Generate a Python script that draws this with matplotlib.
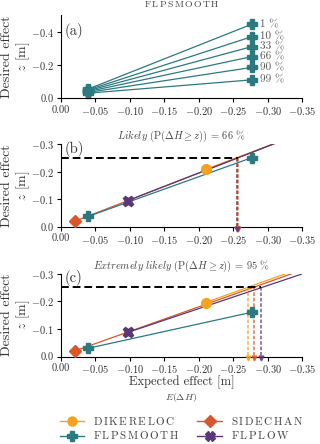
import matplotlib

matplotlib.use("Agg")
import matplotlib.pyplot as plt
from matplotlib.lines import Line2D

plt.rcParams["font.family"] = ["cmr10", "DejaVu Serif"]
plt.rcParams["mathtext.fontset"] = "cm"
plt.rcParams["axes.formatter.use_mathtext"] = True
plt.rcParams["axes.unicode_minus"] = True

C_DIKE = "#f6a11f"
C_SIDE = "#d9572c"
C_SMOOTH = "#2b7a80"
C_LOW = "#5a3878"

TARGET = -0.25

# panel (a): FLPSMOOTH quantile lines
a_labels = ["1 %", "10 %", "33 %", "66 %", "90 %", "99 %"]
a_x0 = [-0.04] * 6
a_z0 = [-0.055, -0.05, -0.045, -0.04, -0.035, -0.03]
a_x1 = [-0.277] * 6
a_z1 = [-0.445, -0.37, -0.31, -0.25, -0.185, -0.11]

# panel (b): likely (66 %)
b_measures = ["DIKERELOC", "SIDECHAN", "FLPLOW"]
b_pt_x = [-0.21, -0.02, -0.097]
b_pt_z = [-0.208, -0.02, -0.095]
b_end_x = [-0.31, -0.31, -0.31]
b_end_z = [-0.301, -0.301, -0.301]
b_cross_x = [-0.255, -0.257, -0.256]
b_smooth_x = [-0.04, -0.277]
b_smooth_z = [-0.038, -0.25]

# panel (c): extremely likely (95 %)
c_measures = ["DIKERELOC", "SIDECHAN", "FLPLOW"]
c_pt_x = [-0.21, -0.02, -0.097]
c_pt_z = [-0.195, -0.02, -0.087]
c_end_x = [-0.327, -0.336, -0.352]
c_end_z = [-0.30, -0.30, -0.30]
c_cross_x = [-0.272, -0.280, -0.291]
c_smooth_x = [-0.04, -0.277]
c_smooth_z = [-0.03, -0.16]

colors = {"DIKERELOC": C_DIKE, "SIDECHAN": C_SIDE, "FLPSMOOTH": C_SMOOTH, "FLPLOW": C_LOW}
markers = {"DIKERELOC": "o", "SIDECHAN": "D", "FLPSMOOTH": "P", "FLPLOW": "X"}
msizes = {"DIKERELOC": 7, "SIDECHAN": 6.5, "FLPSMOOTH": 7.5, "FLPLOW": 7.5}


def spaced(name):
    # imitate the wide small-caps look of the measure names
    return "$\\mathrm{" + "\\,".join(name) + "}$"


fig = plt.figure(figsize=(3.2, 4.44), dpi=100)
ax_a = fig.add_axes([0.19, 0.779, 0.754, 0.187])
ax_b = fig.add_axes([0.19, 0.489, 0.754, 0.187])
ax_c = fig.add_axes([0.19, 0.197, 0.754, 0.187])

xticks = [0.0, -0.05, -0.10, -0.15, -0.20, -0.25, -0.30, -0.35]
for ax in (ax_a, ax_b, ax_c):
    ax.spines["top"].set_visible(False)
    ax.spines["right"].set_visible(False)
    ax.set_xlim(0, -0.35)
    ax.set_xticks(xticks)
    ax.set_xticklabels(["%.2f" % v if v == 0 else "$-$%.2f" % -v for v in xticks])
    ax.tick_params(labelsize=7.5, length=3, width=0.8, direction="out", pad=2,
                   labelcolor="#333333")
    ax.set_ylabel("Desired effect\n$z$ [m]", fontsize=10, linespacing=1.15,
                  color="#333333")
    ax.yaxis.set_label_coords(-0.118, 0.5)

# (a)
ax_a.set_ylim(0, -0.5)
ax_a.set_yticks([0.0, -0.2, -0.4])
ax_a.set_yticklabels(["0.0", "$-$0.2", "$-$0.4"])
for lab, x0, z0, x1, z1 in zip(a_labels, a_x0, a_z0, a_x1, a_z1):
    ax_a.plot([x0, x1], [z0, z1], color=C_SMOOTH, lw=0.9, marker="P", ms=7,
              clip_on=False)
    ax_a.text(x1 - 0.012, z1, lab, fontsize=8, va="center", ha="left", color="#555555")
ax_a.text(0.015, 0.9, "(a)", transform=ax_a.transAxes, fontsize=10.5, va="top",
          color="#333333")
ax_a.set_title(spaced("FLPSMOOTH"), fontsize=7, pad=6, color="#444444")


def draw_panel(ax, names, px, pz, ex, ez, cx, sx, sz, title, label):
    ax.set_ylim(0, -0.3)
    ax.set_yticks([0.0, -0.1, -0.2, -0.3])
    ax.set_yticklabels(["0.0", "$-$0.1", "$-$0.2", "$-$0.3"])
    for name, x0, z0, x1, z1 in zip(names, px, pz, ex, ez):
        ax.plot([x0, x1], [z0, z1], color=colors[name], lw=0.9)
    ax.plot(sx, sz, color=C_SMOOTH, lw=0.9)
    ax.plot([0, max(cx, key=abs)], [TARGET, TARGET], color="black", lw=1.4,
            ls=(0, (4, 2)), zorder=4)
    for name, x in zip(names, cx):
        ax.plot([x, x], [TARGET, 0], color=colors[name], lw=1.3, alpha=0.7,
                ls=(0, (2, 1)), zorder=3)
        ax.plot([x], [0.006], color=colors[name], marker="v", ms=3.5, alpha=0.8,
                clip_on=False, zorder=5)
    for name, x0, z0 in zip(names, px, pz):
        ax.plot([x0], [z0], color=colors[name], marker=markers[name],
                ms=msizes[name], zorder=6, clip_on=False, mec=colors[name])
    ax.plot(sx, sz, color=C_SMOOTH, lw=0, marker="P", ms=msizes["FLPSMOOTH"],
            zorder=6, clip_on=False)
    ax.text(0.015, 1.04, label, transform=ax.transAxes, fontsize=10.5, va="top",
            color="#333333")
    ax.set_title(title, fontsize=7.5, pad=3, color="#444444")


draw_panel(ax_b, b_measures, b_pt_x, b_pt_z, b_end_x, b_end_z, b_cross_x,
           b_smooth_x, b_smooth_z,
           r"$Likely$ ($\mathrm{P}(\Delta H \geq z)$) = 66 %", "(b)")
draw_panel(ax_c, c_measures, c_pt_x, c_pt_z, c_end_x, c_end_z, c_cross_x,
           c_smooth_x, c_smooth_z,
           r"$Extremely\ likely$ ($\mathrm{P}(\Delta H \geq z)$) = 95 %", "(c)")

fig.text(0.567, 1 - 382 / 444, "Expected effect [m]", fontsize=9, ha="center",
         va="center", color="#333333")
fig.text(0.567, 1 - 397 / 444, r"$E(\Delta H)$", fontsize=7, ha="center", va="center",
         color="#444444")

legend_order = ["DIKERELOC", "FLPSMOOTH", "SIDECHAN", "FLPLOW"]
handles = [Line2D([], [], color=colors[n], marker=markers[n], ms=6.5, lw=1.0) for n in legend_order]
leg = fig.legend(handles, [spaced(n) for n in legend_order], ncol=2, loc="center",
                 bbox_to_anchor=(0.567, 1 - 428 / 444), frameon=False, fontsize=8,
                 columnspacing=1.6, handlelength=2.2, handletextpad=0.8,
                 labelspacing=0.25)
for t in leg.get_texts():
    t.set_color("#444444")

fig.savefig("out.png", dpi=100)
